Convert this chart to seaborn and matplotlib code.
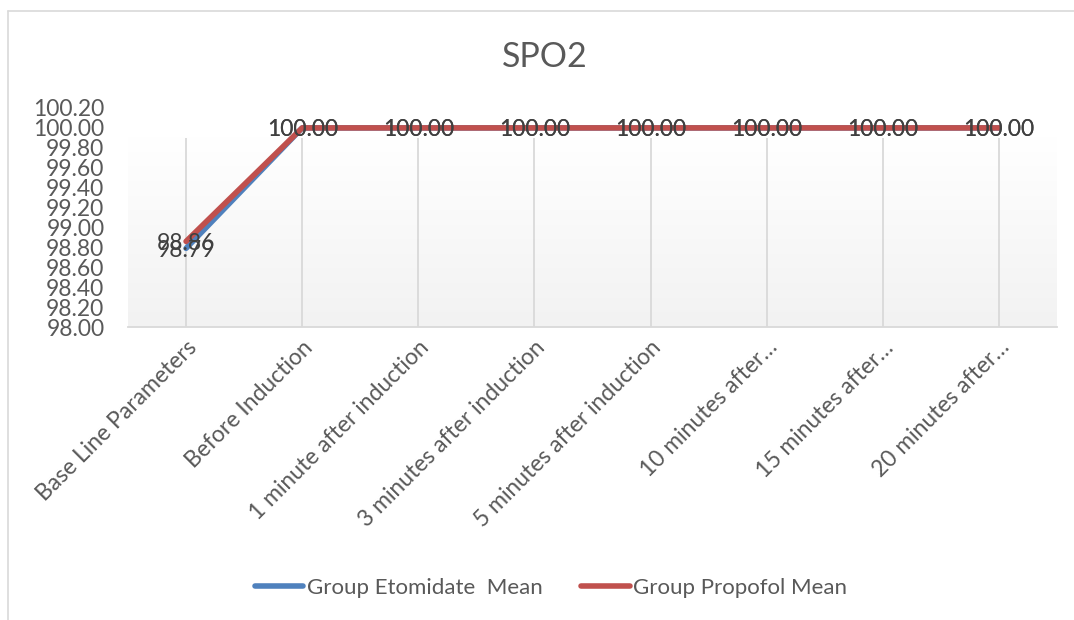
import matplotlib.pyplot as plt
import matplotlib.lines as mlines
import numpy as np
import pandas as pd
import seaborn as sns

categories = [
    "Base Line Parameters",
    "Before Induction",
    "1 minute after induction",
    "3 minutes after induction",
    "5 minutes after induction",
    "10 minutes after\u2026",
    "15 minutes after\u2026",
    "20 minutes after\u2026",
]
etomidate_mean = [98.79, 100.00, 100.00, 100.00, 100.00, 100.00, 100.00, 100.00]
propofol_mean = [98.86, 100.00, 100.00, 100.00, 100.00, 100.00, 100.00, 100.00]
series_names = ["Group Etomidate  Mean", "Group Propofol Mean"]
series_colors = ["#4F81BD", "#C0504D"]

df = pd.DataFrame({
    "x": list(range(len(categories))) * 2,
    "value": etomidate_mean + propofol_mean,
    "series": [series_names[0]] * len(categories) + [series_names[1]] * len(categories),
})

sns.set_style("white")
plt.rcParams["font.family"] = ["Lato", "DejaVu Sans"]
text_color = "#595959"

fig = plt.figure(figsize=(10.74, 6.2), dpi=100)
ax = fig.add_axes([128 / 1074, 1 - 327 / 620, (1057 - 128) / 1074, (327 - 108) / 620])

n = len(categories)
ax.set_xlim(-0.5, n - 0.5)
ax.set_ylim(98.0, 100.2)

# gradient plot-area background like the original
grad = np.linspace(0, 1, 256).reshape(-1, 1)
cmap = sns.blend_palette(["#F2F2F2", "#FFFFFF"], as_cmap=True)
ax.imshow(grad, extent=(-0.5, n - 0.5, 98.0, 99.9), origin="lower",
          aspect="auto", cmap=cmap, zorder=0)
ax.vlines(range(n), 98.0, 99.9, color="#D9D9D9", lw=1.3, zorder=1)

sns.lineplot(data=df, x="x", y="value", hue="series", palette=series_colors,
             lw=4, ax=ax, legend=False, zorder=3)

for vals in (etomidate_mean, propofol_mean):
    for i, v in enumerate(vals):
        ax.text(i, v - 0.02, f"{v:.2f}", ha="center", va="center", fontsize=16.5,
                color="#404040", zorder=4)

ax.set_xticks(range(n))
ax.set_xticklabels(categories, rotation=45, ha="right", rotation_mode="anchor",
                   fontsize=16.5, color=text_color)
ax.set_yticks(np.arange(98.0, 100.21, 0.2))
ax.set_yticklabels([f"{v:.2f}" for v in np.arange(98.0, 100.21, 0.2)],
                   fontsize=16.5, color=text_color)
ax.tick_params(axis="both", length=0)
ax.tick_params(axis="y", pad=17)
ax.tick_params(axis="x", pad=7)
ax.set_xlabel("")
ax.set_ylabel("")
for s in ["top", "right", "left"]:
    ax.spines[s].set_visible(False)
ax.spines["bottom"].set_color("#D9D9D9")
ax.spines["bottom"].set_linewidth(1.3)
ax.patch.set_alpha(0)

fig.text(545 / 1074, 1 - 57 / 620, "SPO2", ha="center", va="center",
         fontsize=24.5, color=text_color)

handles = [mlines.Line2D([], [], color=c, lw=4) for c in series_colors]
fig.legend(handles, series_names, loc="center", bbox_to_anchor=(551 / 1074, 1 - 588 / 620),
           ncol=2, frameon=False, fontsize=16, labelcolor=text_color,
           handlelength=2.2, handletextpad=0.17, columnspacing=1.7)

# outer chart frame (top and left edges visible in the crop)
fig.add_artist(mlines.Line2D([8 / 1074, 8 / 1074], [0, 1 - 11 / 620],
                             transform=fig.transFigure, color="#D9D9D9", lw=1.2))
fig.add_artist(mlines.Line2D([8 / 1074, 1], [1 - 11 / 620, 1 - 11 / 620],
                             transform=fig.transFigure, color="#D9D9D9", lw=1.2))

fig.savefig("out.png", dpi=100)
